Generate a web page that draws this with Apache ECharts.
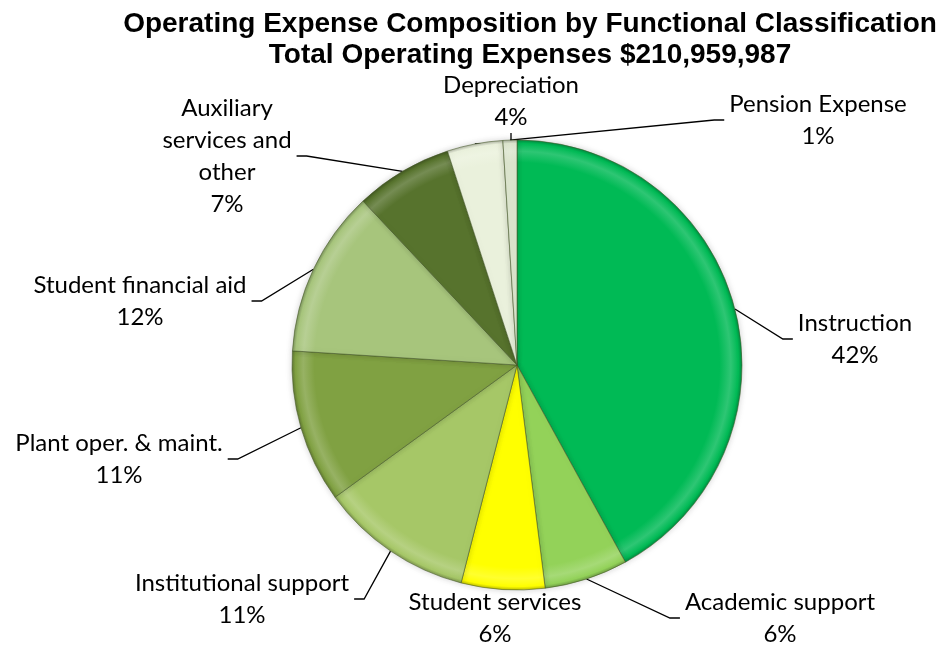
<!DOCTYPE html>
<html>
<head>
<meta charset="utf-8">
<script src="https://cdn.jsdelivr.net/npm/echarts@6/dist/echarts.min.js"></script>
<style>
  html, body { margin: 0; padding: 0; background: #fff; }
  #chart { width: 947px; height: 646px; }
</style>
</head>
<body>
<div id="chart"></div>
<script>
// Functional classification categories (clockwise from 12 o'clock)
const categories = [
  'Instruction',
  'Academic support',
  'Student services',
  'Institutional support',
  'Plant oper. & maint.',
  'Student financial aid',
  'Auxiliary services and other',
  'Depreciation',
  'Pension Expense'
];
// Share of total operating expenses, percent
const shares = [42, 6, 6, 11, 11, 12, 7, 4, 1];

const titleLines = [
  'Operating Expense Composition by Functional Classification',
  'Total Operating Expenses $210,959,987'
];

// Slice fills
const colors = [
  '#00BA55', '#93D259', '#FFFF00', '#A6C767', '#80A142',
  '#A7C57C', '#57732D', '#EAF1DC', '#DCE5CE'
];

// Where each label block sits (centre of block, px)
const labelPos = [
  [855, 339], [780, 618], [495, 618], [242, 599], [119, 459],
  [140, 301], [227, 156], [511, 101], [818, 120]
];

// Line breaks for long names
const wrapped = { 'Auxiliary services and other': 'Auxiliary\nservices and\nother' };

const cx = 517, cy = 365, R = 225;

function shade(hex, f) {
  const n = parseInt(hex.slice(1), 16);
  let r = (n >> 16) & 255, g = (n >> 8) & 255, b = n & 255;
  const t = f < 0 ? 0 : 255, p = Math.abs(f);
  r = Math.round((t - r) * p + r);
  g = Math.round((t - g) * p + g);
  b = Math.round((t - b) * p + b);
  return 'rgb(' + r + ',' + g + ',' + b + ')';
}

// Bevelled rim on every slice
function bevel(c) {
  return {
    type: 'radial', x: cx, y: cy, r: R, global: true,
    colorStops: [
      { offset: 0, color: c },
      { offset: 0.90, color: c },
      { offset: 0.95, color: shade(c, 0.18) },
      { offset: 0.985, color: c },
      { offset: 1, color: shade(c, -0.25) }
    ]
  };
}

const pieData = categories.map((name, i) => ({
  name: name,
  value: shares[i],
  itemStyle: { color: bevel(colors[i]) },
  labelLine: { show: name !== 'Student services' }
}));

const chart = echarts.init(document.getElementById('chart'), null, { renderer: 'canvas' });

chart.setOption({
  backgroundColor: '#ffffff',
  animation: false,
  title: {
    text: titleLines.join('\n'),
    left: 530,
    top: 9,
    textAlign: 'center',
    padding: 0,
    textStyle: {
      fontFamily: 'Liberation Sans, Arial, sans-serif',
      fontWeight: 'bold',
      fontSize: 28,
      lineHeight: 31,
      color: '#000'
    }
  },
  series: [{
    type: 'pie',
    center: [cx, cy],
    radius: [0, R],
    startAngle: 90,
    clockwise: true,
    data: pieData,
    itemStyle: {
      borderColor: 'rgba(70,90,40,0.55)',
      borderWidth: 1,
      shadowBlur: 6,
      shadowColor: 'rgba(0,0,0,0.18)'
    },
    emphasis: { disabled: true },
    label: {
      show: true,
      position: 'outside',
      formatter: p => (wrapped[p.name] || p.name) + '\n' + p.value + '%',
      fontFamily: 'Lato, sans-serif',
      fontSize: 24,
      lineHeight: 32,
      color: '#000',
      align: 'center',
      padding: [0, 5]
    },
    labelLine: {
      show: true,
      length: 10,
      length2: 10,
      minTurnAngle: 90,
      lineStyle: { color: '#000', width: 1.3 }
    },
    labelLayout: params => {
      const p = labelPos[params.dataIndex];
      return { x: p[0], y: p[1], align: 'center', verticalAlign: 'middle' };
    }
  }]
});
</script>
</body>
</html>
